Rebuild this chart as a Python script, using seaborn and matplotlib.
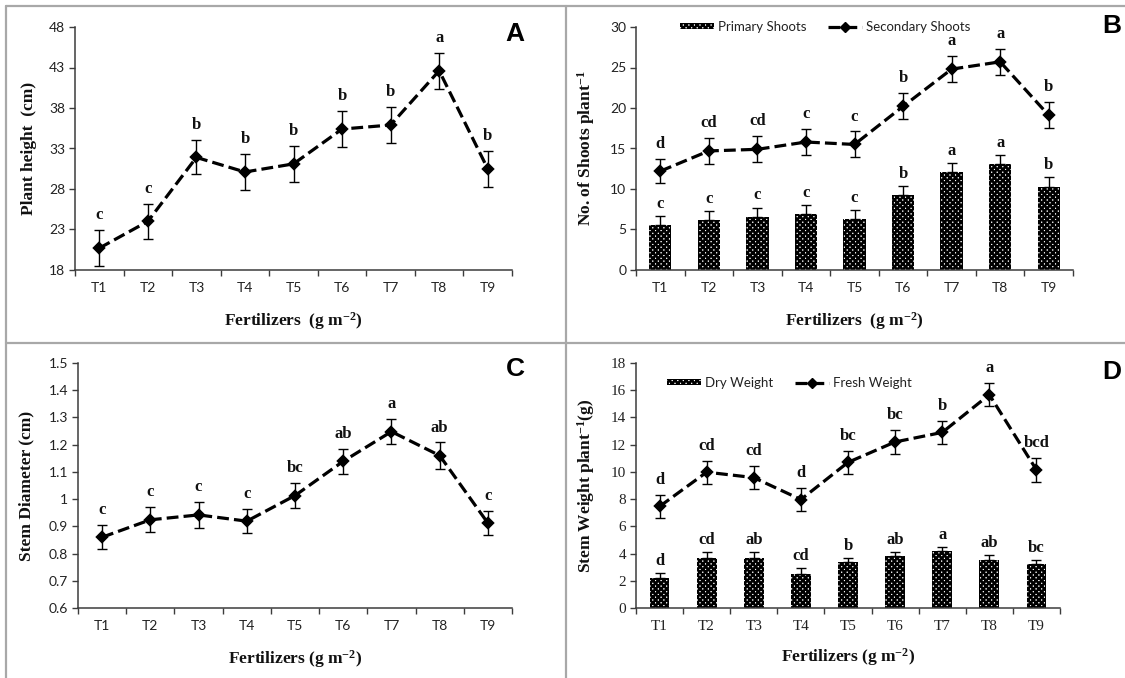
import matplotlib
matplotlib.use("Agg")
import matplotlib.pyplot as plt
import seaborn as sns
import numpy as np
from matplotlib.lines import Line2D
from matplotlib.patches import Patch
from matplotlib.ticker import FixedLocator

# ---------------- data ----------------
treatments = ["T1", "T2", "T3", "T4", "T5", "T6", "T7", "T8", "T9"]

height_mean = [20.7, 24.0, 31.9, 30.1, 31.1, 35.4, 35.9, 42.6, 30.5]
height_err = [2.2, 2.2, 2.1, 2.2, 2.2, 2.2, 2.2, 2.2, 2.2]
height_letters = ["c", "c", "b", "b", "b", "b", "b", "a", "b"]

primary_mean = [5.6, 6.2, 6.5, 6.9, 6.3, 9.3, 12.1, 13.1, 10.3]
primary_err = [1.1, 1.1, 1.2, 1.1, 1.1, 1.1, 1.1, 1.1, 1.2]
primary_letters = ["c", "c", "c", "c", "c", "b", "a", "a", "b"]
secondary_mean = [12.2, 14.7, 14.9, 15.8, 15.5, 20.2, 24.8, 25.7, 19.1]
secondary_err = [1.5, 1.6, 1.6, 1.6, 1.6, 1.6, 1.6, 1.6, 1.6]
secondary_letters = ["d", "cd", "cd", "c", "c", "b", "a", "a", "b"]

diameter_mean = [0.86, 0.924, 0.942, 0.919, 1.013, 1.139, 1.248, 1.160, 0.912]
diameter_err = [0.045, 0.046, 0.047, 0.045, 0.045, 0.045, 0.046, 0.048, 0.044]
diameter_letters = ["c", "c", "c", "c", "bc", "ab", "a", "ab", "c"]

dry_mean = [2.22, 3.69, 3.69, 2.52, 3.37, 3.79, 4.16, 3.55, 3.20]
dry_err = [0.35, 0.40, 0.40, 0.40, 0.32, 0.31, 0.29, 0.36, 0.32]
dry_letters = ["d", "cd", "ab", "cd", "b", "ab", "a", "ab", "bc"]
fresh_mean = [7.46, 9.98, 9.58, 7.97, 10.7, 12.2, 12.9, 15.67, 10.15]
fresh_err = [0.85, 0.85, 0.85, 0.85, 0.85, 0.85, 0.85, 0.85, 0.88]
fresh_letters = ["d", "cd", "cd", "d", "bc", "bc", "b", "a", "bcd"]

# ---------------- style ----------------
sns.set_theme(style="white")
plt.rcParams["hatch.linewidth"] = 1.8
plt.rcParams["mathtext.fontset"] = "custom"
plt.rcParams["mathtext.rm"] = "Liberation Serif"
plt.rcParams["mathtext.bf"] = "Liberation Serif:bold"
plt.rcParams["mathtext.default"] = "bf"
SERIF = ["Liberation Serif", "DejaVu Serif"]
SANS = ["Lato", "DejaVu Sans"]
AXC = "#3c3c3c"
HATCH = "xxxxxx"

W, H = 1125, 678
fig = plt.figure(figsize=(W / 100, H / 100), dpi=100)
fig.patch.set_facecolor("white")


def add_axes(left, right, top, bottom):
    return fig.add_axes([left / W, 1 - bottom / H, (right - left) / W, (bottom - top) / H])


def style_axis(ax, ylim, yticks, ytick_labels, ylabel, xlabel, tick_family, tick_size,
               ylab_x, xlab_y):
    ax.set_xlim(-0.5, len(treatments) - 0.5)
    ax.set_ylim(*ylim)
    ax.set_facecolor("white")
    for s in ["top", "right"]:
        ax.spines[s].set_visible(False)
    for s in ["left", "bottom"]:
        ax.spines[s].set_color(AXC)
        ax.spines[s].set_linewidth(1.1)
    ax.set_xticks(range(len(treatments)))
    ax.set_xticklabels(treatments)
    ax.xaxis.set_minor_locator(FixedLocator(np.arange(-0.5, len(treatments), 1.0)))
    ax.tick_params(axis="x", which="major", length=0, pad=9)
    ax.tick_params(axis="x", which="minor", length=4, width=1, color=AXC, direction="out",
                   bottom=True)
    ax.set_yticks(yticks)
    ax.set_yticklabels(ytick_labels)
    ax.tick_params(axis="y", which="major", length=4, width=1, color=AXC, direction="out", pad=3,
                   left=True)
    for lab in ax.get_xticklabels() + ax.get_yticklabels():
        lab.set_fontfamily(tick_family)
        lab.set_fontsize(tick_size)
        lab.set_color("#222222")
    ax.set_ylabel(ylabel, fontfamily=SERIF, fontweight="bold", fontsize=12.5, color="#111111")
    ax.set_xlabel(xlabel, fontfamily=SERIF, fontweight="bold", fontsize=12.5, color="#111111")
    ax.yaxis.set_label_coords(ylab_x, 0.5)
    ax.xaxis.set_label_coords(0.5, xlab_y)
    ax.grid(False)


def draw_line(ax, means, errs, letters):
    sns.pointplot(x=treatments, y=means, ax=ax, color="black", markers="D",
                  linestyles="--", errorbar=None, markersize=5.5, linewidth=2.3)
    ax.errorbar(range(len(treatments)), means, yerr=errs, fmt="none", ecolor="black",
                elinewidth=1, capsize=3.5, capthick=1, zorder=4)
    for i, (m, e, t) in enumerate(zip(means, errs, letters)):
        ax.annotate(t, (i, m + e), xytext=(0, 5), textcoords="offset points", ha="center",
                    va="bottom", fontfamily=SERIF, fontweight="bold", fontsize=12, color="#111111")


def draw_bars(ax, means, errs, letters, width):
    sns.barplot(x=treatments, y=means, ax=ax, color="white", width=width, errorbar=None,
                edgecolor="black", linewidth=0, hatch=HATCH, zorder=2)
    ax.errorbar(range(len(treatments)), means, yerr=[np.zeros(len(means)), errs], fmt="none",
                ecolor="black", elinewidth=1, capsize=3.5, capthick=1, zorder=3)
    for i, (m, e, t) in enumerate(zip(means, errs, letters)):
        ax.annotate(t, (i, m + e), xytext=(0, 3), textcoords="offset points", ha="center",
                    va="bottom", fontfamily=SERIF, fontweight="bold", fontsize=12, color="#111111")


XLAB = r"Fertilizers  (g m$^{-2}$)"
XLAB2 = r"Fertilizers (g m$^{-2}$)"

# ---- Panel A ----
axA = add_axes(75, 512, 27, 270)
draw_line(axA, height_mean, height_err, height_letters)
style_axis(axA, (18, 48), [18, 23, 28, 33, 38, 43, 48], ["18", "23", "28", "33", "38", "43", "48"],
           "Plant height  (cm)", XLAB, SANS, 10, -0.088, -0.165)

# ---- Panel B ----
axB = add_axes(636, 1073, 27, 270)
draw_bars(axB, primary_mean, primary_err, primary_letters, 0.46)
draw_line(axB, secondary_mean, secondary_err, secondary_letters)
style_axis(axB, (0, 30), [0, 5, 10, 15, 20, 25, 30], ["0", "5", "10", "15", "20", "25", "30"],
           r"No. of Shoots plant$^{-1}$", XLAB, SANS, 10, -0.09, -0.165)

# ---- Panel C ----
axC = add_axes(78, 512, 363, 608)
draw_line(axC, diameter_mean, diameter_err, diameter_letters)
cticks = [0.6, 0.7, 0.8, 0.9, 1.0, 1.1, 1.2, 1.3, 1.4, 1.5]
style_axis(axC, (0.6, 1.5), cticks, ["0.6", "0.7", "0.8", "0.9", "1", "1.1", "1.2", "1.3", "1.4", "1.5"],
           "Stem Diameter (cm)", XLAB2, SANS, 10, -0.10, -0.165)

# ---- Panel D ----
axD = add_axes(636, 1060, 363, 608)
draw_bars(axD, dry_mean, dry_err, dry_letters, 0.42)
draw_line(axD, fresh_mean, fresh_err, fresh_letters)
style_axis(axD, (0, 18), list(range(0, 19, 2)), [str(v) for v in range(0, 19, 2)],
           r"Stem Weight plant$^{-1}$(g)", XLAB2, SERIF, 11, -0.092, -0.155)

# ---- legends ----
def add_legend(ax, labels, x, y):
    handles = [Patch(facecolor="white", edgecolor="black", hatch=HATCH, linewidth=0),
               Line2D([], [], color="black", ls="--", lw=2.3, marker="D", markersize=5)]
    leg = ax.legend(handles, labels, ncol=2, frameon=False, loc="center left",
                    bbox_to_anchor=(x / W, 1 - y / H), bbox_transform=fig.transFigure,
                    handlelength=2.6, handleheight=0.3, handletextpad=0.3, columnspacing=1.6,
                    prop={"family": SANS, "size": 9.5}, borderaxespad=0, borderpad=0)
    for t in leg.get_texts():
        t.set_color("#222222")

add_legend(axB, ["Primary Shoots", "Secondary Shoots"], 680, 27)
add_legend(axD, ["Dry Weight", "Fresh Weight"], 667, 383)

# ---- panel letters ----
for lab, x, y in [("A", 515, 34), ("B", 1112, 26), ("C", 515, 369), ("D", 1112, 372)]:
    fig.text(x / W, 1 - y / H, lab, fontsize=19, fontweight="bold",
             fontfamily=["Liberation Sans", "DejaVu Sans"], ha="center", va="center", color="black")

# ---- frame / separators ----
GRID = "#a8a8a8"
fig.add_artist(Line2D([566 / W, 566 / W], [0, 1 - 6 / H], transform=fig.transFigure, color=GRID, lw=1.6))
fig.add_artist(Line2D([6 / W, 1], [1 - 343 / H, 1 - 343 / H], transform=fig.transFigure, color=GRID, lw=1.6))
fig.add_artist(Line2D([6 / W, 1], [1 - 6 / H, 1 - 6 / H], transform=fig.transFigure, color=GRID, lw=1.6))
fig.add_artist(Line2D([6 / W, 6 / W], [0, 1 - 6 / H], transform=fig.transFigure, color=GRID, lw=1.6))

fig.savefig("out.png", dpi=100, facecolor="white")
